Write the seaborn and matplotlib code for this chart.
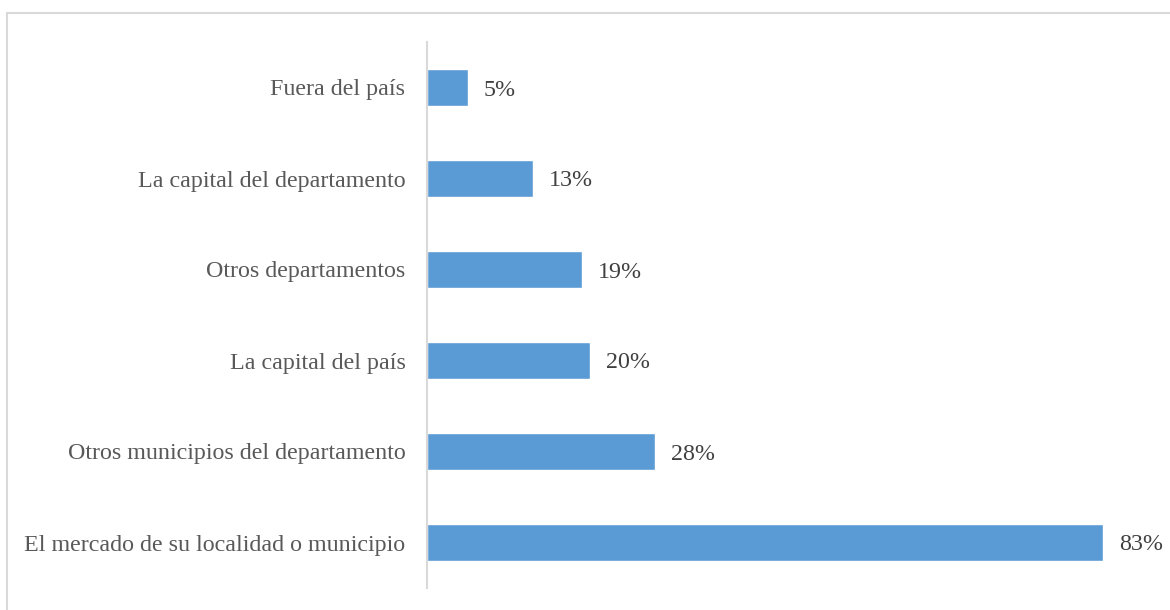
import matplotlib
matplotlib.use("Agg")
import matplotlib.pyplot as plt
import seaborn as sns
import pandas as pd
from matplotlib.patches import Rectangle

categories = [
    "Fuera del país",
    "La capital del departamento",
    "Otros departamentos",
    "La capital del país",
    "Otros municipios del departamento",
    "El mercado de su localidad o municipio",
]
values = [5, 13, 19, 20, 28, 83]
labels = ["5%", "13%", "19%", "20%", "28%", "83%"]

sns.set_style("white")
plt.rcParams["font.family"] = ["Liberation Serif", "DejaVu Serif"]

df = pd.DataFrame({"cat": categories, "val": values})

fig = plt.figure(figsize=(11.7, 6.1), dpi=100)
ax = fig.add_axes([427 / 1170, 22 / 610, (1160 - 427) / 1170, (588 - 42) / 610])

sns.barplot(data=df, y="cat", x="val", orient="h", color="#5B9BD5",
            saturation=1, width=0.4, ax=ax)

ax.set_xlim(0, 90)
ax.set_ylim(5.5, -0.5)
ax.set_xlabel("")
ax.set_ylabel("")
ax.set_xticks([])
for s in ["top", "right", "bottom"]:
    ax.spines[s].set_visible(False)
ax.spines["left"].set_color("#d9d9d9")
ax.spines["left"].set_linewidth(1.5)
ax.tick_params(axis="y", length=0, pad=15.5, labelsize=17.3, labelcolor="#595959")
for t in ax.get_yticklabels():
    t.set_verticalalignment("center_baseline")

for i, (v, lab) in enumerate(zip(values, labels)):
    ax.text(v + 1.95, i, lab, va="center_baseline", ha="left", fontsize=17.3,
            color="#404040")

fig.patches.append(Rectangle((7 / 1170, -0.1), 1.2, (610 - 13) / 610 + 0.1,
                             transform=fig.transFigure, fill=False,
                             edgecolor="#d9d9d9", linewidth=1.5))

fig.savefig("out.png", dpi=100)
